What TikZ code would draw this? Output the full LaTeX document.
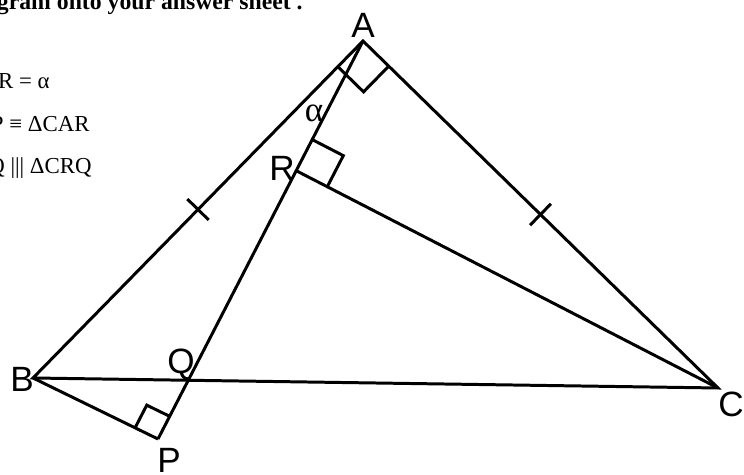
\documentclass[tikz,border=0pt]{standalone}
\usepackage{fontspec}
\setmainfont{Liberation Serif}
\newfontfamily\lblfont{Liberation Sans}
\usetikzlibrary{calc}
\tikzset{
  edge/.style={line width=1.7pt},
  lbl/.style={font=\lblfont\fontsize{20}{20}\selectfont, inner sep=0pt},
  alf/.style={font=\fontsize{20}{20}\selectfont, inner sep=0pt},
  txt/.style={font=\fontsize{13}{15}\selectfont, inner sep=0pt, anchor=base east},
}

\begin{document}
\begin{tikzpicture}[x=0.02cm, y=-0.02cm]
  \useasboundingbox (0,0) rectangle (744,475);
  \clip (0,0) rectangle (744,475);

  % ---- consigne (coupee) ----
  \node[txt, font=\bfseries\fontsize{13.5}{15}\selectfont] (t0) at (303,9.5) {agram onto your answer sheet .};
  \node[txt] (t1) at (50,89) {R = α};
  \node[txt] (t2) at (90,132) {P ≡ ΔCAR};
  \node[txt] (t3) at (92,174) {Q ||| ΔCRQ};

  % ---- sommets ----
  \coordinate (A) at (363,41);
  \coordinate (B) at (33,378);
  \coordinate (C) at (718,388);
  \coordinate (P) at (158,439);
  \coordinate (R) at ($(A)!(C)!(P)$);

  % ---- cotes ----
  \draw[edge] (A) -- (C) -- (B) -- cycle;
  \draw[edge] (B) -- (P);
  \draw[edge] (A) -- (P);
  \draw[edge] (R) -- (C);

  % ---- angles droits ----
  \coordinate (a1) at ($(A)!0.72cm!(B)$);
  \coordinate (a2) at ($(A)!0.72cm!(C)$);
  \draw[edge] (a1) -- ($(a1)+(a2)-(A)$) -- (a2);
  \coordinate (r1) at ($(R)!0.7cm!(A)$);
  \coordinate (r2) at ($(R)!0.7cm!(C)$);
  \draw[edge] (r1) -- ($(r1)+(r2)-(R)$) -- (r2);
  \coordinate (p1) at ($(P)!0.51cm!(B)$);
  \coordinate (p2) at ($(P)!0.51cm!(A)$);
  \draw[edge] (p1) -- ($(p1)+(p2)-(P)$) -- (p2);

  % ---- marques AB = AC ----
  \coordinate (mAB) at ($(A)!0.5!(B)$);
  \coordinate (mAC) at ($(A)!0.5!(C)$);
  \draw[edge] ($(mAB)!0.3cm!90:(B)$) -- ($(mAB)!0.3cm!-90:(B)$);
  \draw[edge] ($(mAC)!0.3cm!90:(C)$) -- ($(mAC)!0.3cm!-90:(C)$);

  % ---- etiquettes ----
  \node[lbl] (lA) at (363,25) {A};
  \node[lbl] (lB) at (22,379) {B};
  \node[lbl] (lC) at (731,404) {C};
  \node[lbl] (lP) at (169,460) {P};
  \node[lbl] (lQ) at (181,365) {Q};
  \node[lbl] (lR) at (282,168) {R};
  \node[alf] (lal) at (314,113) {α};
\end{tikzpicture}
\end{document}
